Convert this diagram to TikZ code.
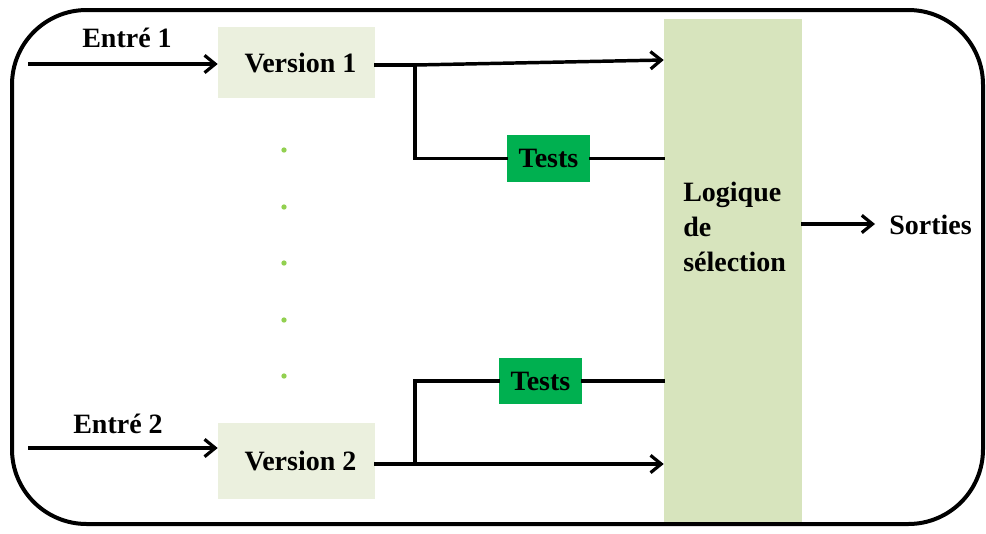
\documentclass[tikz,border=0pt]{standalone}
\usepackage{fontspec}
\setmainfont{Liberation Serif}
\usetikzlibrary{arrows.meta}
\definecolor{verpale}{HTML}{EBF0DE}
\definecolor{logicgreen}{HTML}{D7E4BD}
\definecolor{testgreen}{HTML}{00B050}
\definecolor{dotgreen}{HTML}{92D050}
\tikzset{
  lbl/.style={font=\fontsize{21}{26}\selectfont\bfseries, inner sep=0pt},
  verbox/.style={fill=verpale, draw=none, minimum width=117.75pt, lbl},
  testbox/.style={fill=testgreen, draw=none, minimum width=62.25pt, minimum height=35pt, lbl},
  wire/.style={line width=2.6pt, line cap=rect},
  arr/.style={wire, -{Straight Barb[length=8pt, width=13pt, line width=2.4pt]}},
}
\begin{document}
\begin{tikzpicture}[x=0.75pt, y=-0.75pt]
\useasboundingbox (0,0) rectangle (986,533);
% frame
\draw[line width=3pt, rounded corners=56pt] (12,10) rectangle (983,524);

% blocks
\node[verbox, minimum height=53.25pt] (v1) at (296.5,62.5) {\hspace*{6pt}Version 1};
\node[verbox, minimum height=57pt] (v2) at (296.5,461) {\hspace*{6pt}Version 2};
\node[fill=logicgreen, minimum width=103.5pt, minimum height=377.25pt, inner sep=0pt] (logic) at (733,270.5) {};
\node[lbl, anchor=west, align=left] (logictxt) at (683,227) {Logique\\de\\sélection};
\node[testbox] (t1) at (548.5,158.5) {Tests};
\node[testbox] (t2) at (540.5,381) {Tests};

% labels
\node[lbl] (in1) at (127,38) {Entré 1};
\node[lbl] (in2) at (118,424) {Entré 2};
\node[lbl, anchor=west] (out) at (889,225) {Sorties};

% continuation dots
\foreach \y in {150,207,263,320,376}
  \fill[dotgreen] (284,\y) circle (2pt);

% entry points, junctions and output end
\coordinate (s1) at (30,64);
\coordinate (s2) at (30,448);
\coordinate (j1) at (415,65);
\coordinate (j2) at (415,464);
\coordinate (oend) at (875,224);

% inputs
\draw[arr] (s1) -- (v1.west |- s1);
\draw[arr] (s2) -- (v2.west |- s2);

% version 1 paths
\draw[wire] (v1.east |- j1) -- (j1);
\draw[arr] (j1) -- (logic.west |- 0,60);
\draw[wire] (j1) |- (t1.west);
\draw[wire] (t1.east) -- (logic.west |- t1.east);

% version 2 paths
\draw[wire] (v2.east |- j2) -- (j2);
\draw[arr] (j2) -- (logic.west |- j2);
\draw[wire] (j2) |- (t2.west);
\draw[wire] (t2.east) -- (logic.west |- t2.east);

% output
\draw[arr] (logic.east |- oend) -- (oend);
\end{tikzpicture}
\end{document}
